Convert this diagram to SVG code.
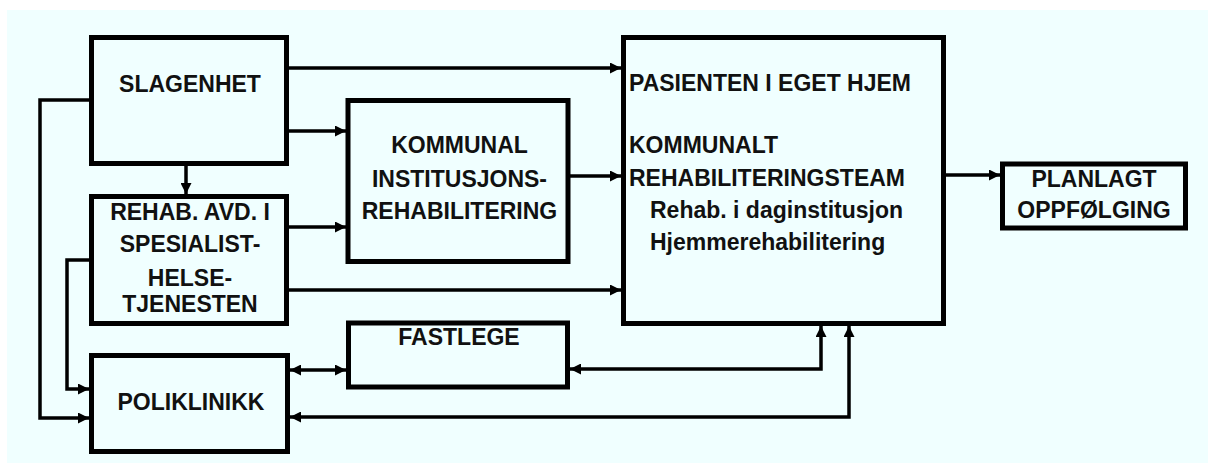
<svg xmlns="http://www.w3.org/2000/svg" width="1208" height="465" viewBox="0 0 1208 465">
<defs>
<style>
.box{fill:none;stroke:#000;stroke-width:5}
.t{font-family:"Liberation Sans",Arial,sans-serif;font-weight:bold;font-size:23px;fill:#111}
.c{text-anchor:middle}
.ln{fill:none;stroke:#000;stroke-width:3.5}
</style>
<marker id="ah" viewBox="0 0 10 10" refX="10" refY="5" markerWidth="12" markerHeight="11" markerUnits="userSpaceOnUse" orient="auto-start-reverse">
<path d="M0,0 L10,5 L0,10 z" fill="#000"/>
</marker>
</defs>
<rect x="0" y="0" width="1208" height="465" fill="#fff"/>
<rect x="7" y="10" width="1201" height="453" fill="#F0FFFF"/>

<g id="connectors">
<path class="ln" d="M289,68 H621" marker-end="url(#ah)"/>
<path class="ln" d="M289,131 H346" marker-end="url(#ah)"/>
<path class="ln" d="M186,166 V194" marker-end="url(#ah)"/>
<path class="ln" d="M89,100 H40 V418 H89" marker-end="url(#ah)"/>
<path class="ln" d="M289,227 H346" marker-end="url(#ah)"/>
<path class="ln" d="M289,290 H621" marker-end="url(#ah)"/>
<path class="ln" d="M89,260 H67 V389 H89" marker-end="url(#ah)"/>
<path class="ln" d="M570,176 H621" marker-end="url(#ah)"/>
<path class="ln" d="M946,175 H1000" marker-end="url(#ah)"/>
<path class="ln" d="M290,370 H346" marker-start="url(#ah)" marker-end="url(#ah)"/>
<path class="ln" d="M821,326 V369 H570" marker-start="url(#ah)" marker-end="url(#ah)"/>
<path class="ln" d="M849,326 V417 H290" marker-start="url(#ah)" marker-end="url(#ah)"/>
</g>

<g id="slagenhet">
<rect class="box" x="91.5" y="37.5" width="195" height="126"/>
<text class="t c" x="190" y="92">SLAGENHET</text>
</g>

<g id="rehab-avd">
<rect class="box" x="91.5" y="196.5" width="195" height="127"/>
<text class="t c" x="190" y="220">REHAB. AVD. I</text>
<text class="t c" x="190" y="252">SPESIALIST-</text>
<text class="t c" x="190" y="286">HELSE-</text>
<text class="t c" x="190" y="312">TJENESTEN</text>
</g>

<g id="poliklinikk">
<rect class="box" x="91.5" y="355.5" width="196" height="96"/>
<text class="t c" x="191" y="410">POLIKLINIKK</text>
</g>

<g id="kommunal">
<rect class="box" x="348" y="100.5" width="220" height="161"/>
<text class="t c" x="459.5" y="153">KOMMUNAL</text>
<text class="t c" x="459.5" y="186.5">INSTITUSJONS-</text>
<text class="t c" x="459.5" y="219">REHABILITERING</text>
</g>

<g id="fastlege">
<rect class="box" x="348.5" y="323" width="219" height="64"/>
<text class="t c" x="459" y="345">FASTLEGE</text>
</g>

<g id="hjem">
<rect class="box" x="623.5" y="37.5" width="320" height="286"/>
<text class="t" x="629" y="91">PASIENTEN I EGET HJEM</text>
<text class="t" x="629" y="153">KOMMUNALT</text>
<text class="t" x="629" y="185.5">REHABILITERINGSTEAM</text>
<text class="t" x="650" y="218">Rehab. i daginstitusjon</text>
<text class="t" x="650" y="250">Hjemmerehabilitering</text>
</g>

<g id="planlagt">
<rect class="box" x="1002.5" y="164" width="183" height="64"/>
<text class="t c" x="1094" y="187">PLANLAGT</text>
<text class="t c" x="1094" y="218">OPPFØLGING</text>
</g>
</svg>
